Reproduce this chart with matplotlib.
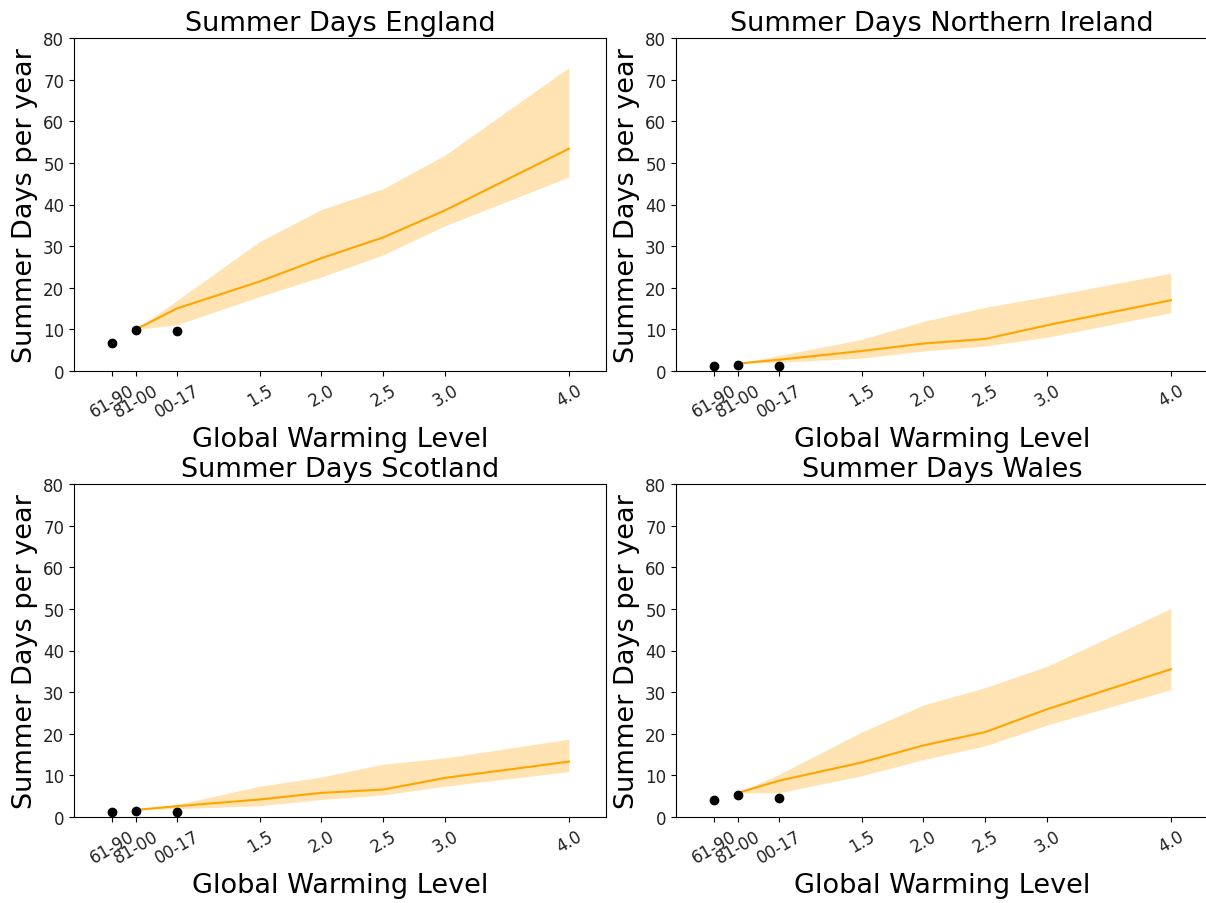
import matplotlib
matplotlib.use("Agg")
import matplotlib.pyplot as plt

# x positions: observed periods placed at their warming level, then GWL values
obs_x = [0.31, 0.5, 0.83]
proj_x = [0.5, 0.83, 1.5, 2.0, 2.5, 3.0, 4.0]
tick_x = [0.31, 0.5, 0.83, 1.5, 2.0, 2.5, 3.0, 4.0]
tick_labels = ["61-90", "81-00", "00-17", "1.5", "2.0", "2.5", "3.0", "4.0"]

regions = ["England", "Northern Ireland", "Scotland", "Wales"]

england_obs = [6.7, 9.8, 9.5]
england_median = [10.0, 15.0, 21.5, 27.1, 32.1, 38.6, 53.4]
england_upper = [10.0, 16.9, 31.1, 38.8, 43.8, 51.9, 72.9]
england_lower = [10.0, 11.1, 17.9, 22.6, 27.9, 34.9, 46.6]

ni_obs = [1.2, 1.5, 1.2]
ni_median = [1.8, 2.7, 4.8, 6.6, 7.7, 11.0, 17.0]
ni_upper = [1.8, 3.7, 7.6, 11.9, 15.3, 17.9, 23.5]
ni_lower = [1.8, 2.1, 3.1, 4.8, 6.0, 8.1, 14.0]

scotland_obs = [1.1, 1.5, 1.1]
scotland_median = [1.7, 2.6, 4.2, 5.8, 6.6, 9.4, 13.3]
scotland_upper = [1.7, 3.0, 7.4, 9.6, 12.7, 14.2, 18.7]
scotland_lower = [1.7, 2.0, 2.7, 4.2, 5.3, 7.4, 10.9]

wales_obs = [4.0, 5.4, 4.5]
wales_median = [5.8, 8.7, 13.1, 17.2, 20.4, 25.9, 35.5]
wales_upper = [5.8, 10.2, 20.4, 26.9, 31.1, 36.2, 50.1]
wales_lower = [5.8, 5.8, 9.9, 13.8, 17.1, 22.1, 30.6]

series = {
    "England": (england_obs, england_median, england_lower, england_upper),
    "Northern Ireland": (ni_obs, ni_median, ni_lower, ni_upper),
    "Scotland": (scotland_obs, scotland_median, scotland_lower, scotland_upper),
    "Wales": (wales_obs, wales_median, wales_lower, wales_upper),
}

W, H = 1206, 904
fig = plt.figure(figsize=(W / 100, H / 100), dpi=100)

# axes boxes in pixels: left, top, width, height
boxes = {
    "England": (74, 39, 532, 333),
    "Northern Ireland": (676, 39, 532, 333),
    "Scotland": (74, 485, 532, 333),
    "Wales": (676, 485, 532, 333),
}

for name in regions:
    l, t, w, h = boxes[name]
    ax = fig.add_axes([l / W, 1 - (t + h) / H, w / W, h / H])
    obs, med, lo, hi = series[name]
    ax.fill_between(proj_x, lo, hi, color="orange", alpha=0.3, linewidth=0)
    ax.plot(proj_x, med, color="orange", linewidth=1.5)
    ax.plot(obs_x, obs, "o", color="black", markersize=6)
    ax.set_xlim(0, 4.3)
    ax.set_ylim(0, 80)
    ax.set_xticks(tick_x)
    ax.set_xticklabels(tick_labels, rotation=30)
    ax.tick_params(labelsize=12, labelcolor="#222222")
    ax.set_title("Summer Days " + name, fontsize=19.5)
    ax.set_xlabel("Global Warming Level", fontsize=19.5)
    ax.set_ylabel("Summer Days per year", fontsize=19.5)

fig.savefig("out.png", dpi=100)
